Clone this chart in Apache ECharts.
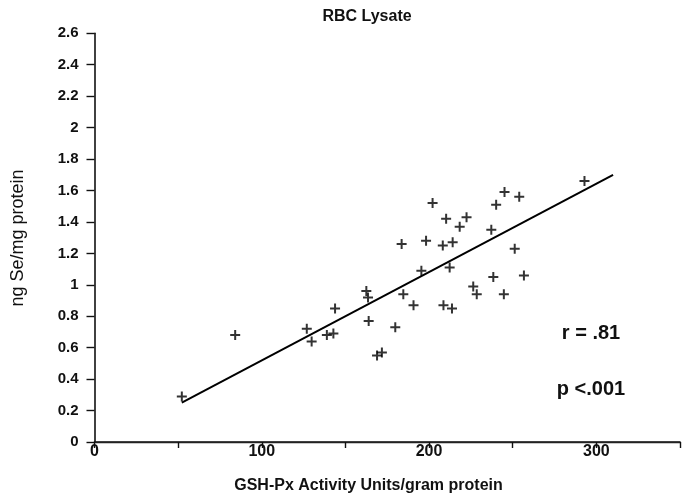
<!DOCTYPE html>
<html>
<head>
<meta charset="utf-8">
<script src="https://cdn.jsdelivr.net/npm/echarts@6/dist/echarts.min.js"></script>
<style>
html,body{margin:0;padding:0;background:#fff;}
#c{width:683px;height:496px;}
</style>
</head>
<body>
<div id="c"></div>
<script>
// GSH-Px activity (x) vs ng Se/mg protein (y), RBC lysate
const gshPx = [52.2, 84.1, 126.9, 129.8, 138.9, 142.8, 143.8, 162.5, 163.5, 163.9,
  168.9, 171.8, 179.8, 183.6, 184.6, 190.7, 195.4, 198.2, 202.1, 208.2,
  208.6, 210.2, 212.3, 213.7, 214.1, 218.3, 222.4, 226.4, 228.5, 237.2,
  238.4, 240.1, 244.7, 245.1, 251.2, 253.9, 256.7, 292.9];
const seProtein = [0.29, 0.68, 0.72, 0.64, 0.68, 0.69, 0.85, 0.96, 0.92, 0.77,
  0.55, 0.57, 0.73, 1.26, 0.94, 0.87, 1.09, 1.28, 1.52, 1.25,
  0.87, 1.42, 1.11, 0.85, 1.27, 1.37, 1.43, 0.99, 0.94, 1.35,
  1.05, 1.51, 0.94, 1.59, 1.23, 1.56, 1.06, 1.66];
const fitX = [52.2, 310];
const fitY = [0.25, 1.70];
const xTicks = [0, 100, 200, 300];
const subtitle = 'RBC Lysate';
const xName = 'GSH-Px Activity Units/gram protein';
const yName = 'ng Se/mg protein';
const rText = 'r = .81';
const pText = 'p <.001';

const FONT = '"Liberation Sans", Arial, Helvetica, sans-serif';
const chart = echarts.init(document.getElementById('c'), null, {renderer: 'canvas'});
const plus = 'path://M4,0H6V4H10V6H6V10H4V6H0V4H4Z';

chart.setOption({
  backgroundColor: '#fff',
  animation: false,
  grid: {left: 94.5, top: 33.3, right: -4.2, bottom: 54},
  xAxis: [{
    type: 'value', min: 0, max: 350, interval: 50,
    axisLine: {show: true, onZero: false, lineStyle: {color: '#111', width: 1.6}},
    axisTick: {show: true, length: 6, lineStyle: {color: '#111', width: 1.4}},
    splitLine: {show: false},
    axisLabel: {
      margin: 2, color: '#111', fontFamily: FONT, fontSize: 16, fontWeight: 'bold',
      formatter: v => (xTicks.indexOf(v) >= 0 ? String(v) : '')
    }
  }, {
    type: 'value', position: 'top', min: 0, max: 350,
    axisLine: {show: true, lineStyle: {color: '#222', width: 1.4}},
    axisTick: {show: false}, axisLabel: {show: false}, splitLine: {show: false}
  }],
  yAxis: {
    type: 'value', min: 0, max: 2.6, interval: 0.2,
    axisLine: {show: true, onZero: false, lineStyle: {color: '#111', width: 1.6}},
    axisTick: {show: true, length: 8, lineStyle: {color: '#111', width: 1.4}},
    splitLine: {show: false},
    axisLabel: {margin: 16, color: '#111', fontFamily: FONT, fontSize: 15, fontWeight: 'bold'}
  },
  series: [{
    type: 'scatter',
    data: gshPx.map((x, i) => [x, seProtein[i]]),
    symbol: plus, symbolSize: 10,
    itemStyle: {color: '#000'}
  }, {
    type: 'line',
    data: fitX.map((x, i) => [x, fitY[i]]),
    showSymbol: false, symbol: 'none',
    lineStyle: {color: '#000', width: 2}
  }],
  graphic: [
    {type: 'text', x: 367, y: 17,
     style: {text: subtitle, fill: '#111', font: 'bold 16px ' + FONT, textAlign: 'center', textVerticalAlign: 'middle'}},
    {type: 'text', x: 368.5, y: 486,
     style: {text: xName, fill: '#111', font: 'bold 16px ' + FONT, textAlign: 'center', textVerticalAlign: 'middle'}},
    {type: 'text', x: 18, y: 238, rotation: Math.PI / 2,
     style: {text: yName, fill: '#111', font: '18px ' + FONT, textAlign: 'center', textVerticalAlign: 'middle'}},
    {type: 'text', x: 591, y: 333,
     style: {text: rText, fill: '#111', font: 'bold 20px ' + FONT, textAlign: 'center', textVerticalAlign: 'middle'}},
    {type: 'text', x: 591, y: 389,
     style: {text: pText, fill: '#111', font: 'bold 20px ' + FONT, textAlign: 'center', textVerticalAlign: 'middle'}}
  ]
});
</script>
</body>
</html>
